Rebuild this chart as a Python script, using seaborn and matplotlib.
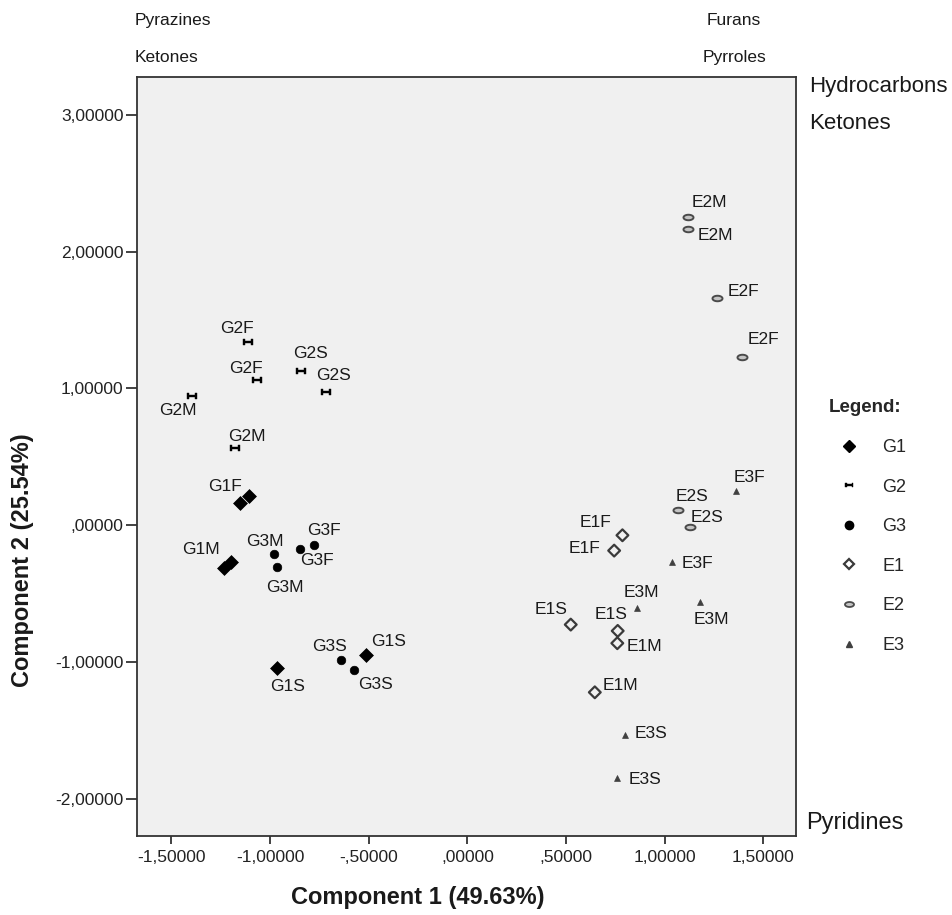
import numpy as np
import pandas as pd
import matplotlib
matplotlib.use("Agg")
import matplotlib.pyplot as plt
from matplotlib.path import Path
from matplotlib.lines import Line2D
from matplotlib.ticker import FuncFormatter, MultipleLocator
import seaborn as sns

# ---------------- data ----------------
groups = ["G1"] * 6 + ["G2"] * 6 + ["G3"] * 6 + ["E1"] * 6 + ["E2"] * 6 + ["E3"] * 6
labels = [
    "G1F", "", "G1M", "", "G1S", "G1S",
    "G2F", "G2F", "G2S", "G2S", "G2M", "G2M",
    "G3M", "G3M", "G3F", "G3F", "G3S", "G3S",
    "E1F", "E1F", "E1S", "E1S", "E1M", "E1M",
    "E2M", "E2M", "E2F", "E2F", "E2S", "E2S",
    "E3F", "E3F", "E3M", "E3M", "E3S", "E3S",
]
comp1 = [
    -1.105, -1.152, -1.199, -1.232, -0.966, -0.513,
    -1.110, -1.064, -0.843, -0.718, -1.395, -1.179,
    -0.980, -0.965, -0.846, -0.778, -0.640, -0.576,
    0.786, 0.744, 0.524, 0.762, 0.760, 0.646,
    1.117, 1.117, 1.267, 1.392, 1.068, 1.129,
    1.362, 1.039, 0.859, 1.179, 0.801, 0.759,
]
comp2 = [
    0.213, 0.160, -0.267, -0.315, -1.046, -0.951,
    1.337, 1.061, 1.129, 0.976, 0.944, 0.564,
    -0.211, -0.306, -0.172, -0.143, -0.988, -1.056,
    -0.074, -0.186, -0.727, -0.773, -0.863, -1.222,
    2.251, 2.165, 1.659, 1.227, 0.109, -0.015,
    0.248, -0.267, -0.605, -0.561, -1.531, -1.848,
]
# label offsets in pixels (dx right, dy down)
label_dx = [
    -24, 0, -30, 0, 11, 22,
    -11, -12, 9, 8, -14, 12,
    -9, 8, 16, 10, -12, 22,
    -27, -30, -20, -7, 27, 26,
    22, 28, 26, 21, 14, 17,
    13, 25, 5, 11, 26, 28,
]
label_dy = [
    -10, 0, -12, 0, 18, -14,
    -14, -12, -17, -16, 14, -12,
    -13, 20, 12, -14, -14, 15,
    -13, -2, -15, -16, 3, -7,
    -15, 6, -7, -18, -14, -10,
    -14, 2, -15, 18, -1, 2,
]

legend_order = ["G1", "G2", "G3", "E1", "E2", "E3"]
xlabel = "Component 1 (49.63%)"
ylabel = "Component 2 (25.54%)"

df = pd.DataFrame({"comp1": comp1, "comp2": comp2, "group": groups, "label": labels})

# ---------------- styles ----------------
sns.set_theme(style="white")
plt.rcParams["font.family"] = ["Liberation Sans", "DejaVu Sans"]

dumbbell = Path([(-1, -0.5), (-0.6, -0.5), (-0.6, -0.2), (0.6, -0.2), (0.6, -0.5), (1, -0.5),
                 (1, 0.5), (0.6, 0.5), (0.6, 0.2), (-0.6, 0.2), (-0.6, 0.5), (-1, 0.5), (-1, -0.5)],
                closed=True)
t = np.linspace(0, 2 * np.pi, 40)
ellipse = Path(np.column_stack([np.cos(t), 0.55 * np.sin(t)]), closed=True)

styles = {
    "G1": dict(marker="D", s=50, color="black", edgecolor="black", linewidth=0.5),
    "G2": dict(marker=dumbbell, s=55, color="black", edgecolor="black", linewidth=0.3),
    "G3": dict(marker="o", s=38, color="black", edgecolor="black", linewidth=0.5),
    "E1": dict(marker="D", s=36, facecolor="none", edgecolor="#3a3a3a", linewidth=1.6),
    "E2": dict(marker=ellipse, s=52, color="#c4c4c4", edgecolor="#4a4a4a", linewidth=1.4),
    "E3": dict(marker="^", s=18, color="#404040", edgecolor="#404040", linewidth=0.5),
}
legend_styles = {
    "G1": dict(marker="D", markersize=6, markerfacecolor="black", markeredgecolor="black"),
    "G2": dict(marker=dumbbell, markersize=6, markerfacecolor="black", markeredgecolor="black", markeredgewidth=0.3),
    "G3": dict(marker="o", markersize=6, markerfacecolor="black", markeredgecolor="black"),
    "E1": dict(marker="D", markersize=5.5, markerfacecolor="none", markeredgecolor="#3a3a3a", markeredgewidth=1.6),
    "E2": dict(marker=ellipse, markersize=6.5, markerfacecolor="#c4c4c4", markeredgecolor="#4a4a4a", markeredgewidth=1.3),
    "E3": dict(marker="^", markersize=4, markerfacecolor="#404040", markeredgecolor="#404040"),
}

fig = plt.figure(figsize=(9.53, 9.15), dpi=100)
fig.patch.set_facecolor("white")
ax = fig.add_axes([0.1441, 0.0858, 0.6912, 0.8300])
ax.set_facecolor("#f0f0f0")

for g in legend_order:
    sub = df[df["group"] == g]
    sns.scatterplot(data=sub, x="comp1", y="comp2", ax=ax, legend=False, zorder=3, **styles[g])

for lab, xv, yv, dx, dy in zip(labels, comp1, comp2, label_dx, label_dy):
    if lab:
        ax.annotate(lab, (xv, yv), xytext=(dx, -dy), textcoords="offset pixels",
                    ha="center", va="center", fontsize=12.5, color="#1a1a1a", zorder=4)

ax.set_xlim(-1.673, 1.666)
ax.set_ylim(-2.276, 3.276)
ax.xaxis.set_major_locator(MultipleLocator(0.5))
ax.yaxis.set_major_locator(MultipleLocator(1.0))


def spss_fmt(v, pos=None):
    s = f"{v:.5f}".replace(".", ",")
    if s.startswith("0,"):
        s = s[1:]
    elif s.startswith("-0,"):
        s = "-" + s[2:]
    return s


ax.xaxis.set_major_formatter(FuncFormatter(spss_fmt))
ax.yaxis.set_major_formatter(FuncFormatter(spss_fmt))
ax.tick_params(axis="x", direction="out", length=5.5, width=1.3, color="#333333",
               labelsize=12.5, labelcolor="#222222", pad=4, bottom=True)
ax.tick_params(axis="y", direction="out", length=8, width=1.3, color="#333333",
               labelsize=12.5, labelcolor="#222222", pad=2, left=True)
for sp in ax.spines.values():
    sp.set_color("#333333")
    sp.set_linewidth(1.3)
    sp.set_visible(True)

ax.set_xlabel(xlabel, fontsize=17, fontweight="bold", color="#1a1a1a", va="center")
ax.set_ylabel(ylabel, fontsize=17, fontweight="bold", color="#1a1a1a", va="center", ha="center")
ax.xaxis.set_label_coords(0.425, -0.080)
ax.yaxis.set_label_coords(-0.175, 0.364)

# corner annotations
top_fs = 12.5
side_fs = 16
fig.text(0.1417, 0.9781, "Pyrazines", fontsize=top_fs, va="center", ha="left", color="#1a1a1a")
fig.text(0.1417, 0.9377, "Ketones", fontsize=top_fs, va="center", ha="left", color="#1a1a1a")
fig.text(0.7419, 0.9781, "Furans", fontsize=top_fs, va="center", ha="left", color="#1a1a1a")
fig.text(0.7377, 0.9377, "Pyrroles", fontsize=top_fs, va="center", ha="left", color="#1a1a1a")
fig.text(0.8489, 0.9052, "Hydrocarbons", fontsize=side_fs, va="center", ha="left", color="#1a1a1a")
fig.text(0.8489, 0.8652, "Ketones", fontsize=side_fs, va="center", ha="left", color="#1a1a1a")
fig.text(0.8457, 0.1005, "Pyridines", fontsize=17, va="center", ha="left", color="#1a1a1a")

handles = [Line2D([], [], linestyle="none", **legend_styles[g]) for g in legend_order]
leg = ax.legend(handles, legend_order, loc="upper left", bbox_to_anchor=(1.038, 0.585),
                frameon=False, title="Legend:", fontsize=13, handlelength=2.33,
                handletextpad=0.65, labelspacing=1.25, borderaxespad=0)
leg.get_title().set_fontweight("bold")
leg.get_title().set_fontsize(13.5)
leg._legend_box.align = "left"

fig.savefig("out.png", dpi=100, facecolor="white")
